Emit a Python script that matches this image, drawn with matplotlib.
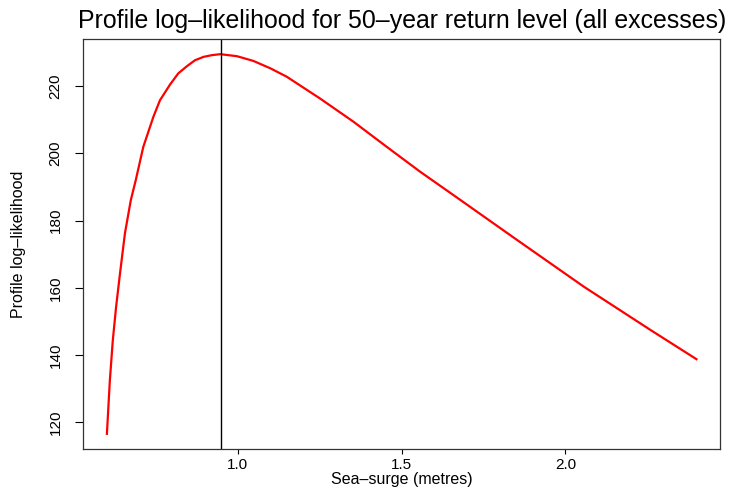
import numpy as np
import matplotlib.pyplot as plt

# profile log-likelihood curve
surge = [0.600, 0.609, 0.618, 0.628, 0.640, 0.655, 0.673, 0.688, 0.711,
         0.742, 0.762, 0.793, 0.818, 0.844, 0.869, 0.895, 0.920, 0.946,
         0.997, 1.047, 1.099, 1.149, 1.251, 1.353, 1.455, 1.557, 1.658,
         1.853, 2.057, 2.261, 2.400]
loglik = [116.6, 132.5, 144.4, 154.3, 164.3, 176.2, 186.1, 192.0, 201.9,
          210.9, 215.8, 220.5, 223.8, 225.9, 227.7, 228.7, 229.2, 229.5,
          228.9, 227.5, 225.3, 222.8, 216.3, 209.4, 201.9, 194.5, 187.6,
          174.2, 160.3, 147.4, 138.8]
mle = 0.947  # maximum likelihood estimate (vertical line)

x_ticks = [1.0, 1.5, 2.0]
y_ticks = [120, 140, 160, 180, 200, 220]

plt.rcParams['font.family'] = ['Liberation Sans', 'DejaVu Sans']

fig = plt.figure(figsize=(7.29, 4.88), dpi=100)
ax = fig.add_axes([0.1143, 0.0799, 0.8734, 0.8402])

ax.plot(surge, loglik, color='red', lw=1.6)
ax.axvline(mle, color='black', lw=1.0)

# R style 4% padding
xr = max(surge) - min(surge)
yr = max(loglik) - min(loglik)
ax.set_xlim(min(surge) - 0.04 * xr, max(surge) + 0.04 * xr)
ax.set_ylim(min(loglik) - 0.04 * yr, max(loglik) + 0.04 * yr)

ax.set_xticks(x_ticks)
ax.set_xticklabels(['1.0', '1.5', '2.0'])
ax.set_yticks(y_ticks)
ax.set_yticklabels([str(v) for v in y_ticks], rotation=90, va='center')
ax.tick_params(axis='x', direction='out', length=3.3, width=0.8,
               labelsize=11, pad=3)
ax.tick_params(axis='y', direction='out', length=6, width=0.8,
               labelsize=11, pad=9)

for s in ax.spines.values():
    s.set_color('#333333')
    s.set_linewidth(0.9)

ax.set_title('Profile log–likelihood for 50–year return level (all excesses)',
             fontsize=17.9, pad=8)
ax.set_xlabel('Sea–surge (metres)', fontsize=11.5, labelpad=0.5)
ax.set_ylabel('Profile log–likelihood', fontsize=11.5, labelpad=16)

fig.savefig('out.png', dpi=100)
